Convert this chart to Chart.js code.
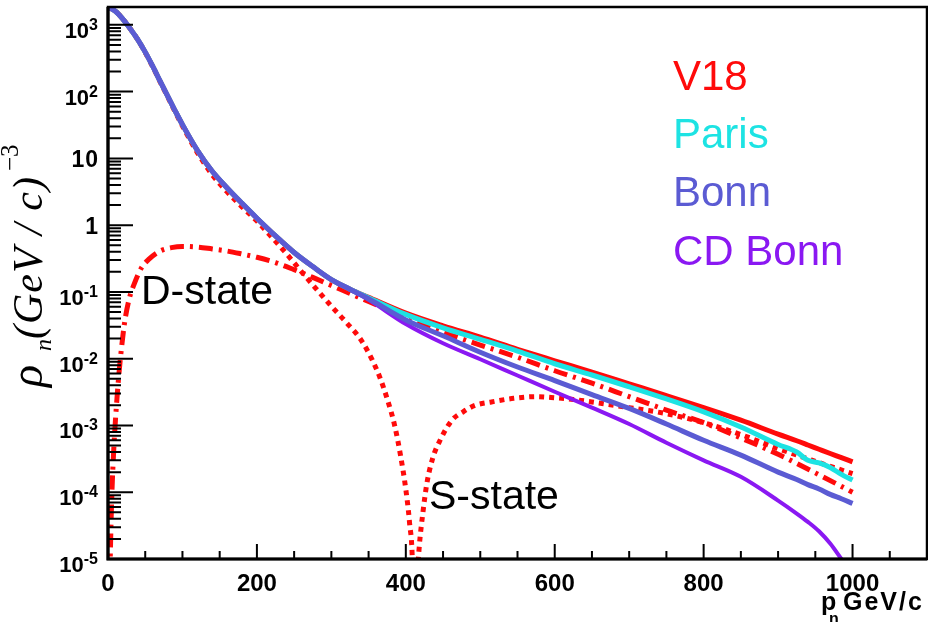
<!DOCTYPE html>
<html>
<head>
<meta charset="utf-8">
<script src="https://cdn.jsdelivr.net/npm/chart.js@4.4.1/dist/chart.umd.min.js"></script>
<style>
  html, body { margin: 0; padding: 0; background: #fff; }
  canvas { display: block; }
</style>
</head>
<body>
<canvas id="chart" width="928" height="622"></canvas>
<script>
// Neutron momentum distributions in the deuteron, GeV/c on x, (GeV/c)^-3 on y.
const momentum = [0, 10, 20, 30, 40, 50, 60, 70, 80, 90, 100, 120, 140, 160, 180, 200, 225, 250, 275, 300, 325,
                  350, 400, 450, 500, 550, 600, 650, 700, 750, 800, 850, 900, 925, 940, 955, 970, 985, 1000];

const v18 = [1850, 1600, 1220, 870, 600, 390, 240, 143, 86, 52, 32, 13.2, 6.4, 3.6, 2.12, 1.27, 0.69, 0.39, 0.24, 0.153, 0.11,
             0.083, 0.048, 0.031, 0.021, 0.0138, 9.3e-3, 6.3e-3, 4.2e-3, 2.8e-3, 1.85e-3, 1.2e-3, 7.4e-4, 5.9e-4, 5.1e-4, 4.4e-4, 3.8e-4, 3.3e-4, 2.85e-4];

const paris = [1850, 1600, 1220, 870, 600, 390, 240, 143, 86, 52, 32, 13.2, 6.4, 3.6, 2.12, 1.27, 0.69, 0.39, 0.24, 0.153, 0.11,
               0.082, 0.046, 0.029, 0.0195, 0.013, 8.4e-3, 5.7e-3, 3.8e-3, 2.5e-3, 1.6e-3, 9.5e-4, 5.2e-4, 4.0e-4, 3.0e-4, 2.75e-4, 2.35e-4, 1.85e-4, 1.52e-4];

const bonn = [1850, 1600, 1220, 870, 600, 390, 240, 143, 86, 52, 32, 13.2, 6.4, 3.6, 2.12, 1.27, 0.69, 0.39, 0.24, 0.153, 0.11,
              0.079, 0.038, 0.022, 0.0125, 7.5e-3, 4.7e-3, 2.9e-3, 1.8e-3, 1.05e-3, 6.0e-4, 3.6e-4, 2.0e-4, 1.55e-4, 1.3e-4, 1.12e-4, 9.3e-5, 8.0e-5, 6.8e-5];

const cdBonn = [1850, 1600, 1220, 870, 600, 390, 240, 143, 86, 52, 32, 13.2, 6.4, 3.6, 2.12, 1.27, 0.69, 0.39, 0.24, 0.153, 0.108,
                0.076, 0.033, 0.017, 0.0098, 5.6e-3, 3.2e-3, 1.85e-3, 1.05e-3, 5.5e-4, 3.0e-4, 1.7e-4, 7.5e-5, 4.8e-5, 3.6e-5, 2.6e-5, 1.7e-5, 1.0e-5, 6e-6];

// V18 S-wave component (node near 410 GeV/c)
const sMomentum = [0, 10, 20, 30, 40, 50, 60, 70, 80, 90, 100, 120, 140, 160, 180, 200, 220, 240, 260, 280, 300, 320, 340,
                   355, 365, 375, 385, 393, 400, 405, 409, 411, 413, 418, 423, 428, 436, 446, 462, 477, 493, 515, 545, 575,
                   600, 625, 650, 700, 750, 800, 850, 900, 950, 1000];
const sState = [1850, 1600, 1220, 870, 600, 385, 236, 140, 84, 50, 30.5, 12.2, 5.7, 3.15, 1.88, 1.15, 0.66, 0.37, 0.2, 0.11, 0.061, 0.035, 0.019,
                9.5e-3, 5.3e-3, 2.5e-3, 1.0e-3, 3.5e-4, 1.1e-4, 3.5e-5, 8e-6, 5e-7, 2e-6, 1.5e-5, 5e-5, 1.3e-4, 3.2e-4, 6.0e-4, 1.2e-3, 1.6e-3, 2.0e-3, 2.25e-3, 2.55e-3, 2.7e-3,
                2.6e-3, 2.45e-3, 2.25e-3, 1.85e-3, 1.5e-3, 1.1e-3, 7.3e-4, 4.5e-4, 2.9e-4, 1.9e-4];

// V18 D-wave component
const dMomentum = [2, 3, 5, 8, 10, 12, 15, 18, 22, 28, 35, 45, 55, 70, 85, 100, 120, 140, 160, 180, 200, 225, 250, 275, 300, 325,
                   350, 375, 400, 450, 500, 550, 600, 650, 700, 750, 800, 850, 900, 950, 1000];
const dState = [2e-6, 1.0e-5, 8e-5, 5e-4, 1.2e-3, 2.5e-3, 6.5e-3, 0.014, 0.033, 0.075, 0.13, 0.23, 0.31, 0.41, 0.46, 0.48, 0.47, 0.44, 0.41, 0.37, 0.33, 0.275, 0.215, 0.165, 0.125, 0.095,
                0.072, 0.055, 0.042, 0.025, 0.016, 0.0105, 6.6e-3, 4.3e-3, 2.7e-3, 1.7e-3, 1.1e-3, 6.5e-4, 3.7e-4, 1.95e-4, 1.0e-4];

const seriesNames = ['V18', 'Paris', 'Bonn', 'CD Bonn'];
const componentNames = ['S-state', 'D-state'];
const yDecades = [3, 2, 1, 0, -1, -2, -3, -4, -5];

const RED = '#ff0a0a', CYAN = '#1de3e3', SLATE = '#5b5bd3', VIOLET = '#8a18f2';

const pts = (xs, ys) => xs.map((v, i) => ({ x: v, y: ys[i] }));

const datasets = [
  { label: seriesNames[2], data: pts(momentum, bonn),   borderColor: SLATE,  borderWidth: 5, order: 0 },
  { label: seriesNames[3], data: pts(momentum, cdBonn), borderColor: VIOLET, borderWidth: 4, order: 1 },
  { label: seriesNames[1], data: pts(momentum, paris),  borderColor: CYAN,   borderWidth: 5, order: 2 },
  { label: seriesNames[0], data: pts(momentum, v18),    borderColor: RED,    borderWidth: 5, order: 3 },
  { label: componentNames[1], data: pts(dMomentum, dState), borderColor: RED, borderWidth: 5, borderDash: [14, 6, 3, 6], order: 4 },
  { label: componentNames[0], data: pts(sMomentum, sState), borderColor: RED, borderWidth: 5, borderDash: [5, 5], order: 5 }
].map(d => Object.assign({ pointRadius: 0, fill: false, cubicInterpolationMode: 'monotone', borderCapStyle: 'butt', clip: 0 }, d));

const SANS = '"Liberation Sans", Arial, Helvetica, sans-serif';
const SERIF = '"Liberation Serif", "Times New Roman", serif';

// ROOT-style frame, inward ticks, exponent labels, titles and text legend
const decorations = {
  id: 'decorations',
  afterDatasetsDraw(chart) {
    const { ctx, chartArea: a, scales: { x, y } } = chart;
    ctx.save();
    ctx.strokeStyle = '#000';
    ctx.lineCap = 'butt';

    // frame
    ctx.lineWidth = 2.5;
    ctx.strokeRect(a.left, a.top, a.right - a.left, a.bottom - a.top);
    ctx.lineWidth = 3.2;
    ctx.beginPath();
    ctx.moveTo(a.left, a.top); ctx.lineTo(a.left, a.bottom); ctx.lineTo(a.right, a.bottom);
    ctx.stroke();

    // y ticks (major at decades, minor at 2..9)
    ctx.lineWidth = 2;
    ctx.beginPath();
    for (const e of yDecades) {
      const py = y.getPixelForValue(Math.pow(10, e));
      ctx.moveTo(a.left, py); ctx.lineTo(a.left + 25, py);
      for (let k = 2; k <= 9; k++) {
        const v = k * Math.pow(10, e);
        if (v > y.max) break;
        const pm = y.getPixelForValue(v);
        ctx.moveTo(a.left, pm); ctx.lineTo(a.left + 13, pm);
      }
    }
    // x ticks (major every 200, minor every 50)
    for (let v = 0; v <= x.max; v += 50) {
      const px = x.getPixelForValue(v);
      const len = v % 200 === 0 ? 15 : 8;
      ctx.moveTo(px, a.bottom); ctx.lineTo(px, a.bottom - len);
    }
    ctx.stroke();
    ctx.restore();
  },
  afterDraw(chart) {
    const { ctx, scales: { y } } = chart;
    ctx.save();
    ctx.fillStyle = '#000';
    ctx.textBaseline = 'alphabetic';

    // y tick labels
    const right = 98;
    for (const e of yDecades) {
      const py = y.getPixelForValue(Math.pow(10, e));
      if (e === 0 || e === 1) {
        ctx.font = 'bold 23px ' + SANS;
        ctx.letterSpacing = '1px';
        ctx.textAlign = 'right';
        ctx.fillText(e === 1 ? '10' : '1', right + 1, py + 9);
        ctx.letterSpacing = '0px';
      } else {
        const sup = String(e);
        ctx.textAlign = 'left';
        ctx.font = 'bold 16px ' + SANS;
        const sw = ctx.measureText(sup).width;
        ctx.font = 'bold 22px ' + SANS;
        const bw = ctx.measureText('10').width;
        ctx.fillText('10', right - sw - bw, py + 13);
        ctx.font = 'bold 16px ' + SANS;
        ctx.fillText(sup, right - sw, py + 5);
      }
    }

    // y axis title: rho_n (GeV / c)^-3
    ctx.save();
    ctx.translate(42, 387);
    ctx.rotate(-Math.PI / 2);
    ctx.textAlign = 'left';
    ctx.font = 'italic 46px ' + SERIF;
    ctx.fillText('\u03C1', 0, 0);
    ctx.font = 'italic 24px ' + SERIF;
    ctx.fillText('n', 36, 9);
    ctx.font = 'italic 42px ' + SERIF;
    ctx.letterSpacing = '1px';
    ctx.fillText('(GeV / c)', 48, 0);
    const mw = ctx.measureText('(GeV / c)').width;
    ctx.letterSpacing = '0px';
    ctx.font = '25px ' + SERIF;
    ctx.fillText('\u22123', 48 + mw + 5, -24);
    ctx.restore();

    // x axis title: p_n GeV/c
    ctx.textAlign = 'left';
    ctx.font = 'bold 25px ' + SANS;
    ctx.fillText('p', 821, 610);
    ctx.font = 'bold 16px ' + SANS;
    ctx.fillText('n', 829, 624);
    ctx.font = 'bold 25px ' + SANS;
    ctx.letterSpacing = '2px';
    ctx.fillText('GeV/c', 843, 610);
    ctx.letterSpacing = '0px';

    // legend as coloured text
    const colours = { 'V18': RED, 'Paris': CYAN, 'Bonn': SLATE, 'CD Bonn': VIOLET };
    const baselines = [90, 148, 206, 265];
    ctx.font = '42px ' + SANS;
    seriesNames.forEach((name, i) => {
      ctx.fillStyle = colours[name];
      ctx.fillText(name, 673, baselines[i]);
    });

    // component annotations
    ctx.fillStyle = '#000';
    ctx.font = '41px ' + SANS;
    ctx.fillText(componentNames[1], 141, 304);
    ctx.fillText(componentNames[0], 429, 509);
    ctx.restore();
  }
};

new Chart(document.getElementById('chart'), {
  type: 'line',
  data: { datasets },
  options: {
    responsive: false,
    animation: false,
    devicePixelRatio: 1,
    layout: { padding: { top: 7, right: 1, left: 0, bottom: 0 } },
    plugins: { legend: { display: false }, tooltip: { enabled: false } },
    scales: {
      x: {
        type: 'linear',
        min: 0,
        max: 1100,
        grid: { display: false },
        border: { display: false },
        ticks: {
          stepSize: 200,
          includeBounds: false,
          maxRotation: 0,
          autoSkip: false,
          padding: 3,
          color: '#000',
          font: { family: SANS, size: 24, weight: 'bold' },
          callback: (v) => String(v)
        },
        afterFit(scale) { scale.height = 63; }
      },
      y: {
        type: 'logarithmic',
        min: 1e-5,
        max: 1850,
        grid: { display: false },
        border: { display: false },
        ticks: { display: false },
        afterFit(scale) { scale.width = 108; }
      }
    }
  },
  plugins: [decorations]
});
</script>
</body>
</html>
